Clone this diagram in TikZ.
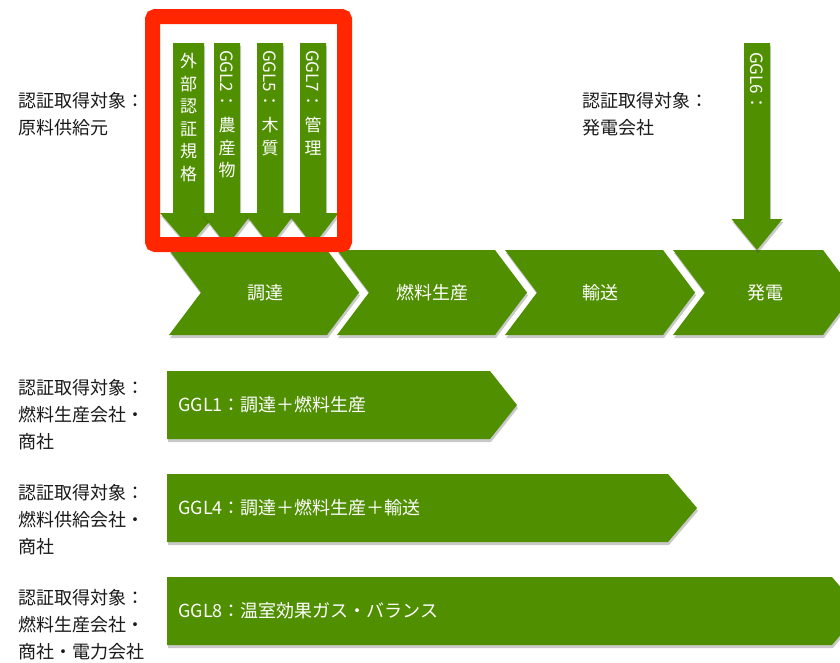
\documentclass[tikz,border=0pt]{standalone}
\usepackage{fontspec}
\setmainfont{Noto Sans CJK JP}
\usetikzlibrary{shadows}
\definecolor{grn}{RGB}{79,143,0}
\definecolor{redbox}{RGB}{255,38,0}
\definecolor{txt}{RGB}{25,25,25}
\newcommand\vArrow[5]{%
  \fill[shp] (#1-#2,43) -- (#1-#2,#3) -- (#1-#4,#3) -- (#1,#5) -- (#1+#4,#3) -- (#1+#2,#3) -- (#1+#2,43) -- cycle;}
\begin{document}
\begin{tikzpicture}[x=1pt,y=-1pt,
  shp/.style={fill=grn, drop shadow={shadow xshift=1pt, shadow yshift=-3pt, opacity=0.3, fill=black!70}},
  lbl/.style={text=txt, font=\fontsize{18}{27}\selectfont, align=left, anchor=west, inner sep=0pt},
  wt/.style={text=white, font=\fontsize{18}{22}\selectfont, inner sep=0pt},
  vt/.style={text=white, font=\fontsize{17}{22.6}\selectfont, inner sep=0pt, align=center},
  vl/.style={text=white, font=\fontsize{17}{20}\selectfont, inner sep=0pt, rotate=-90, anchor=west}]
\useasboundingbox (0,0) rectangle (840,662);
% process chevrons
\fill[shp] (169,250) -- (327,250) -- (359,292.5) -- (327,335) -- (169,335) -- (201,292.5) -- cycle;
\fill[shp] (337,250) -- (495,250) -- (527,292.5) -- (495,335) -- (337,335) -- (369,292.5) -- cycle;
\fill[shp] (505,250) -- (663,250) -- (695,292.5) -- (663,335) -- (505,335) -- (537,292.5) -- cycle;
\fill[shp] (673,250) -- (823,250) -- (855,292.5) -- (823,335) -- (673,335) -- (705,292.5) -- cycle;
\node[wt] (c1) at (265,293) {調達};
\node[wt] (c2) at (432,293) {燃料生産};
\node[wt] (c3) at (600,293) {輸送};
\node[wt] (c4) at (765,293) {発電};
% scope bars
\fill[shp] (167,371) -- (490,371) -- (517,405) -- (490,439) -- (167,439) -- cycle;
\fill[shp] (167,474) -- (668,474) -- (697,508) -- (668,542) -- (167,542) -- cycle;
\fill[shp] (167,577) -- (832,577) -- (861,611) -- (832,645) -- (167,645) -- cycle;
\node[wt, anchor=west] (b1) at (178,405) {GGL1：調達＋燃料生産};
\node[wt, anchor=west] (b4) at (178,508) {GGL4：調達＋燃料生産＋輸送};
\node[wt, anchor=west] (b8) at (178,611) {GGL8：温室効果ガス・バランス};
% vertical arrows
\vArrow{188.5}{15.5}{213}{28.5}{246}
\vArrow{227}{13}{213}{25.5}{246}
\vArrow{270}{13}{213}{25.5}{246}
\vArrow{313}{13}{213}{25.5}{246}
\vArrow{757}{13}{219}{25.5}{250}
\node[vt, anchor=north] (a1) at (188.5,53) {外\\部\\認\\証\\規\\格};
\node[vl] (a2l) at (227,50) {GGL2：};
\node[vt, anchor=north] (a2) at (227,117) {農\\産\\物};
\node[vl] (a3l) at (270,50) {GGL5：};
\node[vt, anchor=north] (a3) at (270,117) {木\\質};
\node[vl] (a4l) at (313,50) {GGL7：};
\node[vt, anchor=north] (a4) at (313,117) {管\\理};
\node[vl] (a6l) at (757,52) {GGL6：};
% red highlight
\draw[redbox, line width=15pt, rounded corners=3pt] (152.5,16.5) rectangle (344.5,244.5);
% left labels
\node[lbl] (t1) at (18,114) {認証取得対象：\\原料供給元};
\node[lbl] (t2) at (582,114) {認証取得対象：\\発電会社};
\node[lbl] (t3) at (18,414.5) {認証取得対象：\\燃料生産会社・\\商社};
\node[lbl] (t4) at (18,520) {認証取得対象：\\燃料供給会社・\\商社};
\node[lbl] (t5) at (18,624.5) {認証取得対象：\\燃料生産会社・\\商社・電力会社};
\end{tikzpicture}
\end{document}
